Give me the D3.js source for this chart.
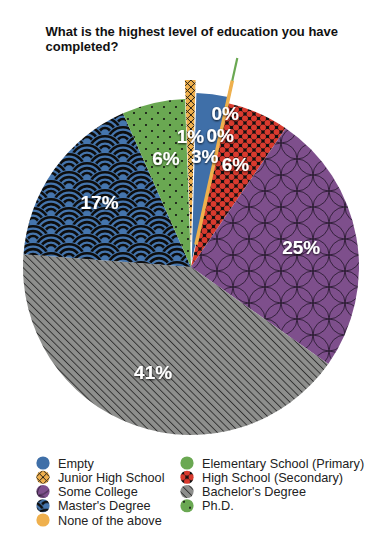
<!DOCTYPE html>
<html>
<head>
<meta charset="utf-8">
<script src="https://cdn.jsdelivr.net/npm/d3@7"></script>
<style>
  html, body { margin: 0; padding: 0; background: #ffffff; }
  svg { display: block; }
</style>
</head>
<body>
<svg id="chart" width="385" height="543"></svg>
<script>
// ---------------- data ----------------
const titleLines = ["What is the highest level of education you have", "completed?"];
const categories = ["Empty", "Elementary School (Primary)", "Junior High School", "High School (Secondary)",
  "Some College", "Bachelor's Degree", "Master's Degree", "Ph.D.", "None of the above"];
const values = [3, 0, 1, 6, 25, 41, 17, 6, 0];
const valueLabels = ["3%", "0%", "1%", "6%", "25%", "41%", "17%", "6%", "0%"];
// clockwise order of the wedges in the pie
const sliceOrder = ["Junior High School", "Empty", "Elementary School (Primary)", "None of the above",
  "High School (Secondary)", "Some College", "Bachelor's Degree", "Master's Degree", "Ph.D."];

// ---------------- styling ----------------
const W = 385, H = 543;
const cx = 191, cy = 267, R = 168;
const startDeg = -2.05;
const explode = { "Empty": 6, "Elementary School (Primary)": 46, "Junior High School": 19, "None of the above": 23 };
const labelShift = { "Elementary School (Primary)": 46, "Junior High School": 19, "None of the above": 23 };
const baseColor = {
  "Empty": "#3f6fa8",
  "Elementary School (Primary)": "#6aa852",
  "Junior High School": "#efb04d",
  "High School (Secondary)": "#d93a2e",
  "Some College": "#7e4f8c",
  "Bachelor's Degree": "#8e8f8d",
  "Master's Degree": "#4575ad",
  "Ph.D.": "#6aa852",
  "None of the above": "#efb04d"
};
const patternId = {
  "Junior High School": "pJH",
  "High School (Secondary)": "pHS",
  "Some College": "pSC",
  "Bachelor's Degree": "pBA",
  "Master's Degree": "pMS",
  "Ph.D.": "pPHD"
};
const fillOf = c => patternId[c] ? `url(#${patternId[c]})` : baseColor[c];

const svg = d3.select("#chart");
const defs = svg.append("defs");

// label shadow
const f = defs.append("filter").attr("id", "shadow").attr("x", "-30%").attr("y", "-30%").attr("width", "160%").attr("height", "160%");
f.append("feDropShadow").attr("dx", 0).attr("dy", 1).attr("stdDeviation", 1.1)
  .attr("flood-color", "#000").attr("flood-opacity", 0.85);

// Junior High: crosses
{
  const s = 7;
  const p = defs.append("pattern").attr("id", "pJH").attr("patternUnits", "userSpaceOnUse")
    .attr("width", s).attr("height", s);
  p.append("rect").attr("width", s).attr("height", s).attr("fill", baseColor["Junior High School"]);
  p.append("path").attr("d", `M-1,-1L${s+1},${s+1}M${s+1},-1L-1,${s+1}`)
    .attr("stroke", "#111").attr("stroke-width", 0.9);
}
// High School: black lattice with red holes
{
  const s = 9;
  const p = defs.append("pattern").attr("id", "pHS").attr("patternUnits", "userSpaceOnUse")
    .attr("width", s).attr("height", s);
  p.append("rect").attr("width", s).attr("height", s).attr("fill", "#111");
  [[s/2, 0], [0, s/2], [s, s/2], [s/2, s]].forEach(([x, y]) =>
    p.append("circle").attr("cx", x).attr("cy", y).attr("r", 2.95).attr("fill", baseColor["High School (Secondary)"]));
}
// Some College: overlapping circles (shippo)
{
  const r = 16, s = 2 * r;
  const p = defs.append("pattern").attr("id", "pSC").attr("patternUnits", "userSpaceOnUse")
    .attr("width", s).attr("height", s).attr("x", 10).attr("y", 4);
  p.append("rect").attr("width", s).attr("height", s).attr("fill", baseColor["Some College"]);
  [[0, 0], [s, 0], [0, s], [s, s], [r, r]].forEach(([x, y]) =>
    p.append("circle").attr("cx", x).attr("cy", y).attr("r", r).attr("fill", "none")
      .attr("stroke", "#1a1020").attr("stroke-width", 0.75));
}
// Bachelor's: thin diagonal lines
{
  const s = 5.2;
  const p = defs.append("pattern").attr("id", "pBA").attr("patternUnits", "userSpaceOnUse")
    .attr("width", s).attr("height", s).attr("patternTransform", "rotate(-45)");
  p.append("rect").attr("width", s).attr("height", s).attr("fill", baseColor["Bachelor's Degree"]);
  p.append("line").attr("x1", 0.5).attr("y1", -1).attr("x2", 0.5).attr("y2", s + 1)
    .attr("stroke", "#1a1a1a").attr("stroke-width", 0.75);
}
// Master's: seigaiha waves
{
  const r = 18, w = 2 * r, h = r;
  const p = defs.append("pattern").attr("id", "pMS").attr("patternUnits", "userSpaceOnUse")
    .attr("width", w).attr("height", h).attr("x", 4).attr("y", 2);
  p.append("rect").attr("width", w).attr("height", h).attr("fill", baseColor["Master's Degree"]);
  const centres = [[r, -r/2], [0, 0], [w, 0], [r, r/2], [0, r], [w, r], [r, 1.5*r]];
  centres.forEach(([x, y]) => {
    const g = p.append("g");
    g.append("circle").attr("cx", x).attr("cy", y).attr("r", r).attr("fill", baseColor["Master's Degree"]);
    [15.8, 10.9, 6.0].forEach(rr =>
      g.append("circle").attr("cx", x).attr("cy", y).attr("r", rr).attr("fill", "none")
        .attr("stroke", "#0d0d0d").attr("stroke-width", 2.6));
  });
}
// Ph.D.: dots
{
  const s = 12;
  const p = defs.append("pattern").attr("id", "pPHD").attr("patternUnits", "userSpaceOnUse")
    .attr("width", s).attr("height", s).attr("x", 3).attr("y", 2);
  p.append("rect").attr("width", s).attr("height", s).attr("fill", baseColor["Ph.D."]);
  [[0, 0], [s, 0], [0, s], [s, s], [s/2, s/2]].forEach(([x, y]) =>
    p.append("circle").attr("cx", x).attr("cy", y).attr("r", 1.05).attr("fill", "#111"));
}

// ---------------- title ----------------
svg.append("g").selectAll("text").data(titleLines).join("text")
  .attr("x", 45.5).attr("y", (d, i) => 35.5 + i * 15)
  .attr("font-family", "Liberation Sans, Arial, Helvetica, sans-serif")
  .attr("font-size", 13).attr("font-weight", "bold").attr("fill", "#111")
  .text(d => d);

// ---------------- pie ----------------
const rows = sliceOrder.map(c => {
  const i = categories.indexOf(c);
  return { cat: c, value: values[i], label: valueLabels[i] };
});
const start = startDeg * Math.PI / 180;
const pie = d3.pie().sort(null).value(d => d.value).startAngle(start).endAngle(start + 2 * Math.PI);
const arcs = pie(rows);
const arc = d3.arc().innerRadius(0).outerRadius(R);

const g = svg.append("g").attr("transform", `translate(${cx},${cy})`);
const off = (a, r) => [Math.sin(a) * r, -Math.cos(a) * r];

// wedges (non-zero)
g.selectAll("path.wedge").data(arcs.filter(d => d.endAngle - d.startAngle > 1e-6)).join("path")
  .attr("class", "wedge")
  .attr("transform", d => {
    const e = explode[d.data.cat] || 0;
    const [x, y] = off((d.startAngle + d.endAngle) / 2, e);
    return `translate(${x},${y})`;
  })
  .attr("d", arc)
  .attr("fill", d => fillOf(d.data.cat));

// zero-size wedges drawn as lines
g.selectAll("line.zero").data(arcs.filter(d => d.endAngle - d.startAngle <= 1e-6)).join("line")
  .attr("class", "zero")
  .attr("x1", d => off(d.startAngle, explode[d.data.cat] || 0)[0])
  .attr("y1", d => off(d.startAngle, explode[d.data.cat] || 0)[1])
  .attr("x2", d => off(d.startAngle, R + (explode[d.data.cat] || 0))[0])
  .attr("y2", d => off(d.startAngle, R + (explode[d.data.cat] || 0))[1])
  .attr("stroke", d => baseColor[d.data.cat])
  .attr("stroke-width", d => d.data.cat === "None of the above" ? 3.5 : 2.2);

// labels
g.selectAll("text.val").data(arcs).join("text")
  .attr("class", "val")
  .attr("x", d => off((d.startAngle + d.endAngle) / 2, 112 + (labelShift[d.data.cat] || 0))[0])
  .attr("y", d => off((d.startAngle + d.endAngle) / 2, 112 + (labelShift[d.data.cat] || 0))[1])
  .attr("text-anchor", "middle").attr("dy", "0.36em")
  .attr("font-family", "Liberation Sans, Arial, Helvetica, sans-serif")
  .attr("font-size", 19).attr("font-weight", "bold").attr("fill", "#ffffff")
  .attr("filter", "url(#shadow)")
  .text(d => d.data.label);

// ---------------- legend ----------------
const lg = svg.append("g");
const item = lg.selectAll("g").data(categories).join("g")
  .attr("transform", (d, i) => `translate(${i % 2 === 0 ? 43 : 187},${463 + Math.floor(i / 2) * 14.25})`);
item.append("circle").attr("r", 6.6).attr("fill", d => fillOf(d));
item.append("text").attr("x", 15).attr("dy", "0.36em")
  .attr("font-family", "Liberation Sans, Arial, Helvetica, sans-serif")
  .attr("font-size", 12.7).attr("fill", "#222")
  .text(d => d);
</script>
</body>
</html>
